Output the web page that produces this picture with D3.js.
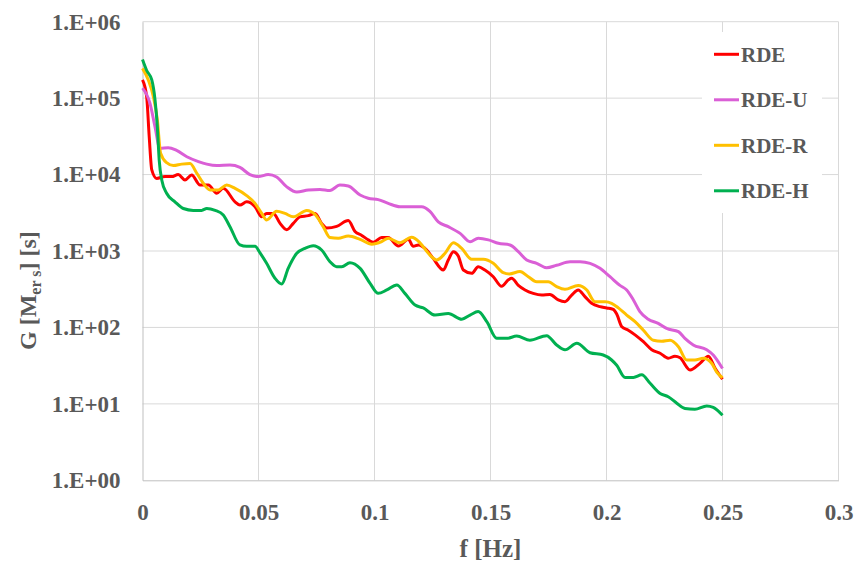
<!DOCTYPE html>
<html>
<head>
<meta charset="utf-8">
<script src="https://cdn.jsdelivr.net/npm/d3@7"></script>
<style>
  body { margin: 0; background: #fff; }
  svg text { font-family: "Liberation Serif", "Times New Roman", serif; font-weight: bold; fill: #595959; }
</style>
</head>
<body>
<div id="chart"></div>
<script>
// --- data (f in Hz, G in s) ---
const seriesNames = ["RDE", "RDE-U", "RDE-R", "RDE-H"];
const seriesColors = ["#ff0000", "#da5fd6", "#ffc000", "#00b050"];

const rdeF = [0, 0.0018, 0.0029, 0.0040, 0.0061, 0.0097, 0.0126, 0.0154, 0.0183, 0.0212, 0.0248, 0.0284, 0.0320, 0.0348, 0.0399, 0.0420, 0.0449, 0.0485, 0.0514, 0.0535, 0.0564, 0.0593, 0.0622, 0.0650, 0.0679, 0.0715, 0.0744, 0.0772, 0.0794, 0.0837, 0.0887, 0.0916, 0.0945, 0.0973, 0.0995, 0.1031, 0.1059, 0.1103, 0.1146, 0.1167, 0.1189, 0.1225, 0.1253, 0.1297, 0.1318, 0.1340, 0.1361, 0.1383, 0.1419, 0.1447, 0.1476, 0.1512, 0.1548, 0.1577, 0.1591, 0.1620, 0.1649, 0.1684, 0.1721, 0.1756, 0.1792, 0.1821, 0.1850, 0.1878, 0.1907, 0.1936, 0.1972, 0.2001, 0.2029, 0.2044, 0.2066, 0.2094, 0.2123, 0.2159, 0.2195, 0.2231, 0.2266, 0.2295, 0.2317, 0.2360, 0.2403, 0.2439, 0.2468, 0.25];
const rdeG = [1.73e5, 1.04e5, 3.1e4, 1.15e4, 8.9e3, 9.4e3, 9.4e3, 1.0e4, 8.5e3, 9.9e3, 7.3e3, 7.3e3, 5.7e3, 6.6e3, 4.4e3, 4.0e3, 4.4e3, 3.8e3, 2.8e3, 3.1e3, 3.1e3, 2.3e3, 1.9e3, 2.3e3, 2.8e3, 2.9e3, 3.1e3, 2.3e3, 2.0e3, 2.1e3, 2.5e3, 1.8e3, 1.6e3, 1.4e3, 1.3e3, 1.5e3, 1.5e3, 1.16e3, 1.42e3, 1.15e3, 1.2e3, 1.03e3, 800, 564, 762, 980, 860, 564, 510, 622, 564, 461, 345, 420, 440, 355, 309, 279, 265, 270, 229, 217, 265, 309, 253, 207, 187, 180, 172, 150, 102, 92, 80, 65, 51, 46, 39.5, 42, 40, 27.8, 33.9, 42, 29.2, 21];

const rdeUF = [0, 0.0032, 0.0054, 0.0075, 0.0111, 0.0147, 0.0191, 0.0241, 0.0277, 0.0320, 0.0377, 0.0420, 0.0463, 0.0499, 0.0542, 0.0578, 0.0622, 0.0665, 0.0715, 0.0765, 0.0808, 0.0851, 0.0887, 0.0938, 0.0973, 0.1016, 0.1059, 0.1110, 0.1153, 0.1203, 0.1239, 0.1275, 0.1318, 0.1369, 0.1412, 0.1447, 0.1491, 0.1534, 0.1584, 0.1620, 0.1656, 0.1699, 0.1742, 0.1785, 0.1843, 0.1886, 0.1929, 0.1972, 0.2015, 0.2058, 0.2087, 0.2116, 0.2144, 0.2180, 0.2223, 0.2259, 0.2310, 0.2338, 0.2374, 0.2432, 0.2460, 0.25];
const rdeUG = [1.35e5, 8.6e4, 4.2e4, 2.2e4, 2.25e4, 2.07e4, 1.71e4, 1.48e4, 1.37e4, 1.31e4, 1.33e4, 1.24e4, 1.0e4, 9.4e3, 1.0e4, 9.3e3, 6.9e3, 5.9e3, 6.3e3, 6.4e3, 6.2e3, 7.3e3, 7.1e3, 5.4e3, 4.9e3, 4.7e3, 4.2e3, 3.8e3, 3.8e3, 3.8e3, 3.3e3, 2.4e3, 2.08e3, 1.7e3, 1.32e3, 1.47e3, 1.4e3, 1.26e3, 1.2e3, 980, 762, 690, 604, 650, 724, 724, 690, 593, 461, 355, 309, 229, 161, 128, 113, 97, 88, 72, 59, 51, 43.6, 29];

const rdeRF = [0, 0.0025, 0.0047, 0.0064, 0.0078, 0.0104, 0.0133, 0.0169, 0.0205, 0.0234, 0.0262, 0.0291, 0.0327, 0.0363, 0.0399, 0.0449, 0.0485, 0.0514, 0.0535, 0.0578, 0.0614, 0.0650, 0.0708, 0.0744, 0.0779, 0.0808, 0.0844, 0.0887, 0.0938, 0.0988, 0.1031, 0.1059, 0.1110, 0.1160, 0.1196, 0.1232, 0.1268, 0.1304, 0.1340, 0.1376, 0.1419, 0.1469, 0.1512, 0.1555, 0.1581, 0.1627, 0.1663, 0.1699, 0.1749, 0.1785, 0.1821, 0.1878, 0.1915, 0.1950, 0.1994, 0.2022, 0.2051, 0.2087, 0.2123, 0.2159, 0.2202, 0.2238, 0.2274, 0.2310, 0.2346, 0.2381, 0.2417, 0.2453, 0.2475, 0.25];
const rdeRG = [2.45e5, 1.73e5, 1.04e5, 5.2e4, 1.9e4, 1.43e4, 1.31e4, 1.37e4, 1.4e4, 1.04e4, 7.7e3, 6.3e3, 6.3e3, 7.3e3, 6.6e3, 5.3e3, 4.2e3, 3.1e3, 2.55e3, 3.3e3, 3.1e3, 2.8e3, 3.4e3, 3.0e3, 2.08e3, 1.5e3, 1.47e3, 1.57e3, 1.42e3, 1.23e3, 1.33e3, 1.47e3, 1.28e3, 1.51e3, 1.28e3, 933, 762, 933, 1.28e3, 1.08e3, 778, 778, 690, 520, 500, 538, 461, 396, 396, 341, 315, 355, 309, 217, 217, 207, 180, 145, 119, 92, 68, 66, 68, 56, 37.5, 37.5, 39.5, 34, 26, 22];

const rdeHF = [0, 0.0018, 0.0040, 0.0054, 0.0064, 0.0072, 0.0083, 0.0104, 0.0140, 0.0176, 0.0219, 0.0255, 0.0277, 0.0313, 0.0348, 0.0377, 0.0420, 0.0449, 0.0485, 0.0506, 0.0535, 0.0571, 0.0600, 0.0628, 0.0665, 0.0700, 0.0736, 0.0772, 0.0808, 0.0837, 0.0859, 0.0894, 0.0938, 0.0981, 0.1016, 0.1053, 0.1096, 0.1131, 0.1175, 0.1210, 0.1261, 0.1318, 0.1376, 0.1412, 0.1447, 0.1484, 0.1527, 0.1570, 0.1613, 0.1670, 0.1742, 0.1785, 0.1821, 0.1872, 0.1929, 0.1986, 0.2022, 0.2044, 0.2080, 0.2116, 0.2152, 0.2188, 0.2231, 0.2266, 0.2303, 0.2338, 0.2381, 0.2432, 0.2460, 0.25];
const rdeHG = [3.2e5, 2.3e5, 1.73e5, 9.5e4, 4.2e4, 1.55e4, 8.5e3, 5.7e3, 4.4e3, 3.6e3, 3.4e3, 3.4e3, 3.6e3, 3.4e3, 2.96e3, 2.08e3, 1.2e3, 1.15e3, 1.15e3, 950, 690, 440, 370, 593, 933, 1.08e3, 1.17e3, 1.03e3, 724, 622, 622, 703, 593, 377, 279, 309, 359, 279, 196, 180, 145, 152, 128, 145, 161, 119, 72, 72, 77, 68, 78, 59, 51, 62, 46.7, 43.6, 37.5, 32, 22.2, 22.2, 24, 18.6, 13.7, 12.4, 10.2, 8.7, 8.5, 9.4, 9.0, 7.1];

const xTicks = [0, 0.05, 0.1, 0.15, 0.2, 0.25, 0.3];
const yTicks = [1, 10, 100, 1e3, 1e4, 1e5, 1e6];
const yTickLabels = ["1.E+00", "1.E+01", "1.E+02", "1.E+03", "1.E+04", "1.E+05", "1.E+06"];

const series = [
  { f: rdeF, g: rdeG },
  { f: rdeUF, g: rdeUG },
  { f: rdeRF, g: rdeRG },
  { f: rdeHF, g: rdeHG }
].map((s, i) => ({
  name: seriesNames[i],
  color: seriesColors[i],
  points: s.f.map((f, j) => ({ f: f, g: s.g[j] }))
}));

// --- layout ---
const width = 856, height = 561;
const margin = { top: 21.7, right: 17.5, bottom: 80.7, left: 142.5 };
const innerW = width - margin.left - margin.right;
const innerH = height - margin.top - margin.bottom;

const svg = d3.select("#chart").append("svg")
  .attr("width", width)
  .attr("height", height);

const g = svg.append("g")
  .attr("transform", `translate(${margin.left},${margin.top})`);

const x = d3.scaleLinear().domain([0, 0.3]).range([0, innerW]);
const y = d3.scaleLog().domain([1, 1e6]).range([innerH, 0]);

// gridlines
g.append("g").selectAll("line")
  .data(xTicks.slice(1))
  .enter().append("line")
  .attr("x1", d => x(d)).attr("x2", d => x(d))
  .attr("y1", 0).attr("y2", innerH)
  .attr("stroke", "#d9d9d9").attr("stroke-width", 1);

g.append("g").selectAll("line")
  .data(yTicks.slice(1))
  .enter().append("line")
  .attr("x1", 0).attr("x2", innerW)
  .attr("y1", d => y(d)).attr("y2", d => y(d))
  .attr("stroke", "#d9d9d9").attr("stroke-width", 1);

// axes
const xAxis = g.append("g")
  .attr("transform", `translate(0,${innerH})`)
  .call(d3.axisBottom(x).tickValues(xTicks).tickSize(0).tickPadding(23)
    .tickFormat(d => d3.format("")(d)));
xAxis.select(".domain").attr("stroke", "#bfbfbf");
xAxis.selectAll("text").attr("font-size", 23).style("font-family", null);

const yAxis = g.append("g")
  .call(d3.axisLeft(y).tickValues(yTicks).tickSize(0).tickPadding(22)
    .tickFormat((d, i) => yTickLabels[i]));
yAxis.select(".domain").attr("stroke", "#bfbfbf");
yAxis.selectAll("text").attr("font-size", 23).style("font-family", null);

// series lines
const line = d3.line()
  .x(d => x(d.f))
  .y(d => y(d.g))
  .curve(d3.curveMonotoneX);

g.selectAll(".series")
  .data(series)
  .enter().append("path")
  .attr("class", "series")
  .attr("fill", "none")
  .attr("stroke", d => d.color)
  .attr("stroke-width", 3)
  .attr("stroke-linejoin", "round")
  .attr("d", d => line(d.points));

// legend
const legend = svg.append("g");
legend.append("rect")
  .attr("x", 702).attr("y", 32)
  .attr("width", 120).attr("height", 181)
  .attr("fill", "#fff");

const item = legend.selectAll(".item")
  .data(series)
  .enter().append("g")
  .attr("transform", (d, i) => `translate(714,${54.3 + i * 45.5})`);
item.append("line")
  .attr("x1", 0).attr("x2", 25)
  .attr("stroke", d => d.color).attr("stroke-width", 3);
item.append("text")
  .attr("x", 27).attr("dy", "0.35em")
  .attr("font-size", 21)
  .text(d => d.name);

// axis titles
svg.append("text")
  .attr("x", margin.left + innerW / 2)
  .attr("y", 557)
  .attr("text-anchor", "middle")
  .attr("font-size", 25)
  .text("f [Hz]");

const yTitle = svg.append("text")
  .attr("transform", "translate(36,350) rotate(-90)")
  .attr("text-anchor", "start")
  .attr("font-size", 24);
yTitle.append("tspan").text("G [M");
yTitle.append("tspan").attr("font-size", 16).attr("dy", 5).text("er s");
yTitle.append("tspan").attr("dy", -5).text("] [s]");
</script>
</body>
</html>
